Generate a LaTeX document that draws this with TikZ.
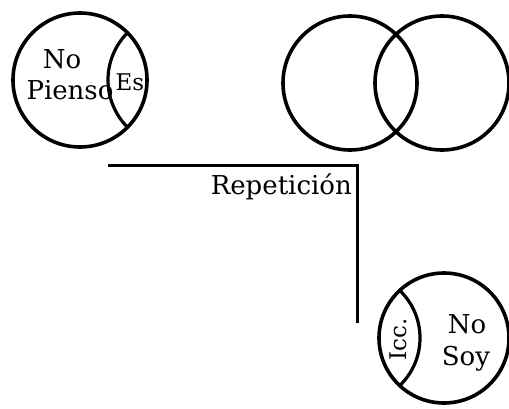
\documentclass[tikz,border=0pt]{standalone}
\usepackage{fontspec}
\setmainfont{DejaVu Serif}
\usetikzlibrary{positioning}
\tikzset{
  venn/.style={draw, circle, line width=3.6pt, minimum size=134pt, inner sep=0pt},
  arco/.style={line width=3.2pt},
  big/.style={font=\fontsize{26}{30}\selectfont, inner sep=0pt},
  small/.style={font=\fontsize{23}{26}\selectfont, inner sep=0pt},
}
\begin{document}
\begin{tikzpicture}[x=1pt,y=-1pt]
\useasboundingbox (0,0) rectangle (509,408);
% No Pienso / Es
\coordinate (c1) at (80,80);
\node[venn] (pienso) at (c1) {};
\begin{scope}
\clip (c1) circle [radius=67];
\draw[arco] ([xshift=95pt]c1) circle [radius=67];
\end{scope}
\node[big, anchor=base] (no1) at (62,68) {No};
\node[big, anchor=base] (pien) at (70,99) {Pienso};
\node[small, anchor=base] (es) at (130,90) {Es};
% two circles
\node[venn] (izq) at (350,83) {};
\node[venn] (der) at (442,83) {};
% bracket
\coordinate (hl) at (108,165);
\coordinate (esq) at (357,165);
\coordinate (vb) at (357,323);
\draw[line width=3pt] (hl) -- (esq) -- (vb);
\node[big, anchor=base east] (rep) at (352,194) {Repetición};
% Icc. / No Soy
\coordinate (c3) at (444,338);
\node[venn, minimum size=130pt] (soy) at (c3) {};
\begin{scope}
\clip (c3) circle [radius=65];
\draw[arco] ([xshift=-90pt]c3) circle [radius=66];
\end{scope}
\node[small, rotate=90] (icc) at (398,339) {Icc.};
\node[big, anchor=base] (no3) at (467,333) {No};
\node[big, anchor=base] (soy3) at (466,365) {Soy};
\end{tikzpicture}
\end{document}
